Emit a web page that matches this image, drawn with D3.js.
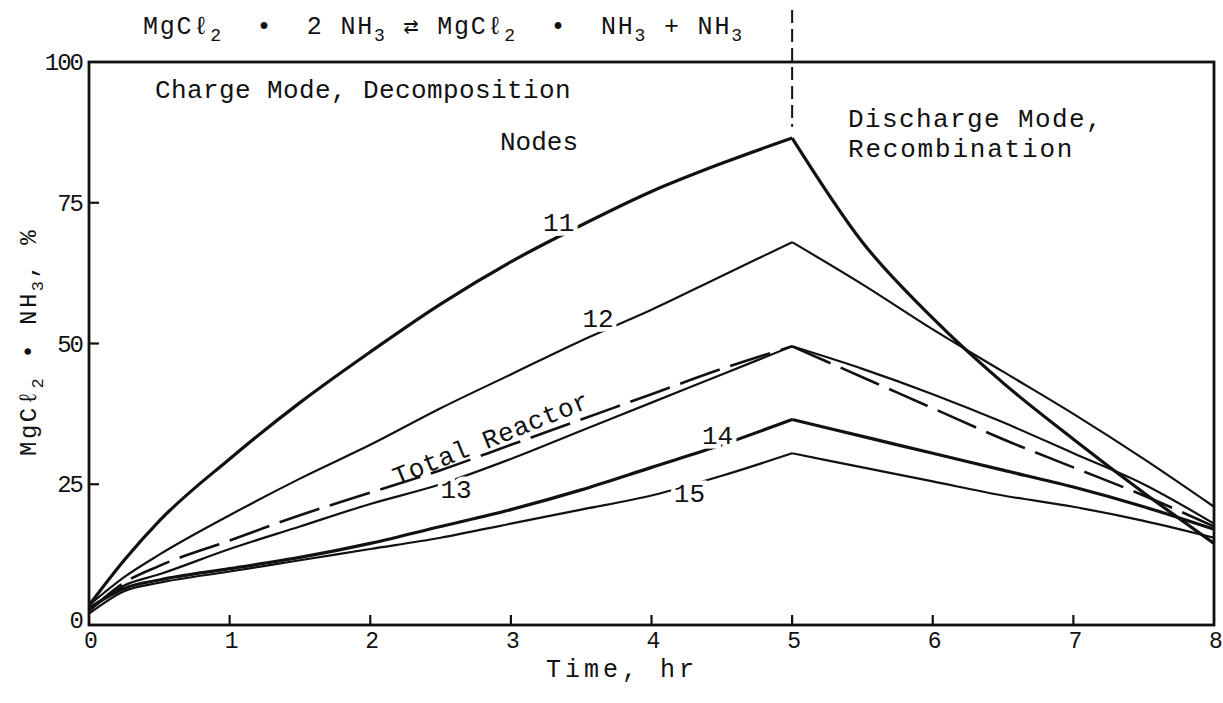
<!DOCTYPE html>
<html><head><meta charset="utf-8">
<script src="https://cdn.jsdelivr.net/npm/d3@7"></script>
<style>
body{margin:0;background:#fff;}
svg{display:block;}
text{font-family:"Liberation Mono","Courier New",monospace;fill:#111;}
</style></head>
<body><svg id="chart" width="1223" height="703"></svg>
<script>
// ---- data ----
const chargeTimes = [0, 0.25, 0.5, 1, 1.5, 2, 2.5, 3, 3.5, 4, 4.5, 5];
const dischargeTimes = [5, 5.5, 6, 6.5, 7, 7.5, 8];

const node11Charge = [3.5, 11.5, 18.5, 29.5, 39.5, 48.5, 57, 64.5, 71, 77, 82, 86.5];
const node11Discharge = [86.5, 68, 54.5, 43, 33, 23.5, 14.5];
const node12Charge = [3.5, 8.5, 12.5, 19.5, 26, 32, 38.5, 44.5, 50.5, 56, 62, 68];
const node12Discharge = [68, 60.5, 52.5, 45, 37.5, 29.5, 21];
const node13Charge = [2.5, 7, 9, 13.5, 17.5, 21.5, 25, 29.5, 34.5, 39.5, 44.5, 49.5];
const node13Discharge = [49.5, 45.5, 41, 36, 30.5, 25, 18];
const node14Charge = [3, 6.5, 8, 10, 12, 14.5, 17.5, 20.5, 24, 28, 32, 36.5];
const node14Discharge = [36.5, 33.5, 30.5, 27.5, 24.5, 21, 17];
const node15Charge = [2, 6, 7.5, 9.5, 11.5, 13.5, 15.5, 18, 20.5, 23, 26.5, 30.5];
const node15Discharge = [30.5, 28, 25.5, 23, 21, 18.5, 15.5];
const totalCharge = [2.5, 7.5, 10.5, 15, 19.5, 23.5, 27.5, 32, 36.5, 41, 45.5, 49.5];
const totalDischarge = [49.5, 44, 38.5, 33, 28, 23, 17.5];

const xTicks = [0, 1, 2, 3, 4, 5, 6, 7, 8];
const yTicks = [0, 25, 50, 75, 100];

const seriesNames = ["11", "12", "13", "14", "15", "Total Reactor"];

// ---- layout ----
const svg = d3.select("#chart");
const x = d3.scaleLinear().domain([0, 8]).range([89, 1214]);
const y = d3.scaleLinear().domain([0, 100]).range([625, 62]);

const series = [
  {name: "11", c: node11Charge, d: node11Discharge, w: 3.2, dash: null},
  {name: "12", c: node12Charge, d: node12Discharge, w: 2.2, dash: null},
  {name: "13", c: node13Charge, d: node13Discharge, w: 2.2, dash: null},
  {name: "14", c: node14Charge, d: node14Discharge, w: 3.2, dash: null},
  {name: "15", c: node15Charge, d: node15Discharge, w: 2.2, dash: null},
  {name: "Total Reactor", c: totalCharge, d: totalDischarge, w: 2.6, dash: "42,11"}
];

const line = d3.line().x(d => x(d[0])).y(d => y(d[1])).curve(d3.curveMonotoneX);
const g = svg.append("g");
series.forEach(s => {
  const cpts = chargeTimes.map((t, i) => [t, s.c[i]]);
  const dpts = dischargeTimes.map((t, i) => [t, s.d[i]]);
  [cpts, dpts].forEach(pts => {
    g.append("path").attr("d", line(pts)).attr("fill", "none")
      .attr("stroke", "#111").attr("stroke-width", s.w)
      .attr("stroke-dasharray", s.dash).attr("stroke-linejoin", "round");
  });
});

// frame
svg.append("rect").attr("x", x(0)).attr("y", y(100))
  .attr("width", x(8) - x(0)).attr("height", y(0) - y(100))
  .attr("fill", "none").attr("stroke", "#111").attr("stroke-width", 2.8);

// x ticks (inward)
xTicks.filter(t => t > 0 && t < 8).forEach(t => {
  svg.append("line").attr("x1", x(t)).attr("x2", x(t)).attr("y1", y(0)).attr("y2", y(0) - 10)
    .attr("stroke", "#111").attr("stroke-width", 2.2);
});
xTicks.forEach(t => {
  svg.append("text").attr("x", x(t) + 2).attr("y", y(0) + 23).attr("text-anchor", "middle")
    .attr("font-size", 23).text(t);
});
// y ticks (inward)
yTicks.filter(v => v > 0 && v < 100).forEach(v => {
  svg.append("line").attr("x1", x(0)).attr("x2", x(0) + 10).attr("y1", y(v)).attr("y2", y(v))
    .attr("stroke", "#111").attr("stroke-width", 2.2);
});
yTicks.forEach(v => {
  svg.append("text").attr("x", x(0) - 7).attr("y", y(v) + (v === 0 ? 3 : 8)).attr("text-anchor", "end")
    .attr("font-size", 24).attr("letter-spacing", -2).text(v);
});

// vertical dashed line at t = 5
svg.append("line").attr("x1", x(5)).attr("x2", x(5)).attr("y1", 10).attr("y2", y(88.5))
  .attr("stroke", "#111").attr("stroke-width", 2).attr("stroke-dasharray", "13,6");

// rich text helper
function rich(sel, parts, subSize) {
  let down = false;
  parts.forEach(p => {
    const ts = sel.append("tspan").text(p[0]);
    if (p[1] && !down) { ts.attr("dy", 7).attr("font-size", subSize); down = true; }
    else if (p[1]) { ts.attr("font-size", subSize); }
    else if (!p[1] && down) { ts.attr("dy", -7); down = false; }
  });
}

const title = svg.append("text").attr("x", 143).attr("y", 34).attr("font-size", 25)
  .attr("letter-spacing", 1.8).attr("xml:space", "preserve");
rich(title, [["MgCℓ", 0], ["2", 1], ["  •  2 NH", 0], ["3", 1], [" ⇄ MgCℓ", 0], ["2", 1], ["  •  NH", 0], ["3", 1], [" + NH", 0], ["3", 1]], 18);

const ylab = svg.append("text").attr("transform", "translate(36,456) rotate(-90)").attr("font-size", 24)
  .attr("letter-spacing", 2.5).attr("xml:space", "preserve");
rich(ylab, [["MgCℓ", 0], ["2", 1], [" • NH", 0], ["3", 1], [", %", 0]], 17);

svg.append("text").attr("x", 622).attr("y", 677).attr("text-anchor", "middle").attr("font-size", 25)
  .attr("letter-spacing", 4).attr("xml:space", "preserve").text("Time, hr");

const annot = [
  {t: "Charge Mode, Decomposition", x: 155, y: 98, ls: 0.4},
  {t: "Nodes", x: 500, y: 150, ls: 0},
  {t: "Discharge Mode,", x: 848, y: 127, ls: 1.4},
  {t: "Recombination", x: 848, y: 157, ls: 1.8}
];
annot.forEach(a => {
  svg.append("text").attr("x", a.x).attr("y", a.y).attr("font-size", 26)
    .attr("letter-spacing", a.ls).text(a.t);
});

// curve labels with white halo (gaps in lines)
const labels = [
  {t: "11", tx: 3.34, v: 71.5},
  {t: "12", tx: 3.62, v: 54.5},
  {t: "13", tx: 2.61, v: 24.2},
  {t: "14", tx: 4.47, v: 33.7},
  {t: "15", tx: 4.27, v: 23.4}
];
labels.forEach(l => {
  svg.append("text").attr("x", x(l.tx)).attr("y", y(l.v) + 9).attr("text-anchor", "middle")
    .attr("font-size", 26).attr("stroke", "#fff").attr("stroke-width", 9)
    .attr("paint-order", "stroke").text(l.t);
});
svg.append("text").attr("transform", `translate(${x(2.19)},${y(24.8)}) rotate(-22)`)
  .attr("font-size", 26).attr("letter-spacing", 0.5).text(seriesNames[5]);
</script></body></html>
